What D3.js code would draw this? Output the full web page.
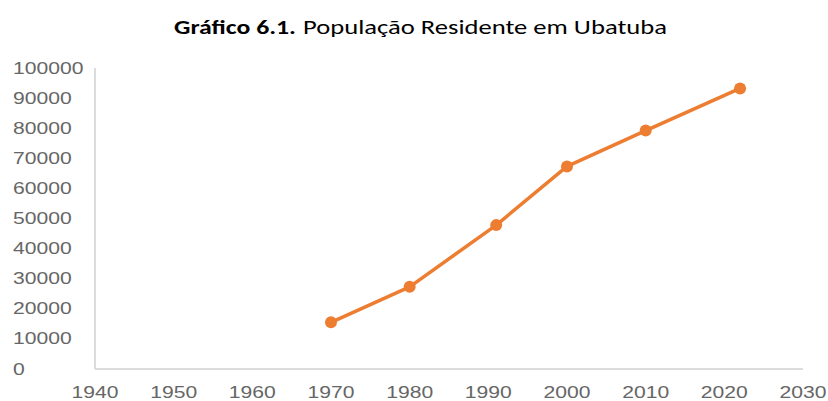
<!DOCTYPE html>
<html>

<head>
    <meta charset="UTF-8">
    <title>População Residente em Ubatuba</title>
    <style>
        body { margin: 0; background: #fff; }
    </style>
</head>

<body>

    <svg id="chart"></svg>

    <script src="https://cdn.jsdelivr.net/npm/d3@7"></script>
    <script>
        const width = 828;
        const height = 401;

        // dados
        const anos = [1970, 1980, 1991, 2000, 2010, 2022];
        const populacao = [15500, 27300, 47800, 67300, 79200, 93200];
        const xTicks = [1940, 1950, 1960, 1970, 1980, 1990, 2000, 2010, 2020, 2030];
        const yTicks = [0, 10000, 20000, 30000, 40000, 50000, 60000, 70000, 80000, 90000, 100000];

        const svg = d3.select('#chart')
            .attr('width', width)
            .attr('height', height);

        const x = d3.scaleLinear()
            .domain([1940, 2030])
            .range([95, 803]);
        const y = d3.scaleLinear()
            .domain([0, 100000])
            .range([369, 68]);

        // titulo
        svg.append('text')
            .attr('x', 174)
            .attr('y', 34)
            .attr('textLength', 122)
            .attr('lengthAdjust', 'spacingAndGlyphs')
            .style('font-family', 'Carlito, Calibri, "Open Sans", sans-serif')
            .style('font-size', '21px')
            .style('font-weight', 'bold')
            .style('fill', '#000')
            .text('Gráfico 6.1.');
        svg.append('text')
            .attr('x', 303)
            .attr('y', 34)
            .attr('textLength', 364)
            .attr('lengthAdjust', 'spacingAndGlyphs')
            .style('font-family', 'Carlito, Calibri, "Open Sans", sans-serif')
            .style('font-size', '21px')
            .style('fill', '#000')
            .text('População Residente em Ubatuba');

        // eixos
        svg.append('line')
            .attr('x1', x(1940)).attr('x2', x(1940))
            .attr('y1', y(100000)).attr('y2', y(0))
            .style('stroke', '#dcdcdc')
            .style('stroke-width', 2);
        svg.append('line')
            .attr('x1', x(1940)).attr('x2', x(2030))
            .attr('y1', y(0)).attr('y2', y(0))
            .style('stroke', '#dcdcdc')
            .style('stroke-width', 2);

        svg.append('g')
            .selectAll('text')
            .data(yTicks)
            .enter()
            .append('text')
            .attr('transform', d => 'translate(13,' + (y(d) + 5.5) + ') scale(1.32,1)')
            .style('font-family', '"Liberation Sans", Arial, sans-serif')
            .style('font-size', '16px')
            .style('fill', '#666')
            .text(d => d);

        svg.append('g')
            .selectAll('text')
            .data(xTicks)
            .enter()
            .append('text')
            .attr('transform', d => 'translate(' + x(d) + ',398) scale(1.32,1)')
            .attr('text-anchor', 'middle')
            .style('font-family', '"Liberation Sans", Arial, sans-serif')
            .style('font-size', '16px')
            .style('fill', '#666')
            .text(d => d);

        // serie
        const pontos = anos.map((a, i) => [a, populacao[i]]);
        const linha = d3.line()
            .x(d => x(d[0]))
            .y(d => y(d[1]));

        svg.append('path')
            .datum(pontos)
            .attr('d', linha)
            .style('fill', 'none')
            .style('stroke', '#ED7D31')
            .style('stroke-width', 3.5)
            .style('stroke-linejoin', 'round');

        svg.append('g')
            .selectAll('circle')
            .data(pontos)
            .enter()
            .append('circle')
            .attr('cx', d => x(d[0]))
            .attr('cy', d => y(d[1]))
            .attr('r', 6)
            .style('fill', '#ED7D31');
    </script>
</body>

</html>
